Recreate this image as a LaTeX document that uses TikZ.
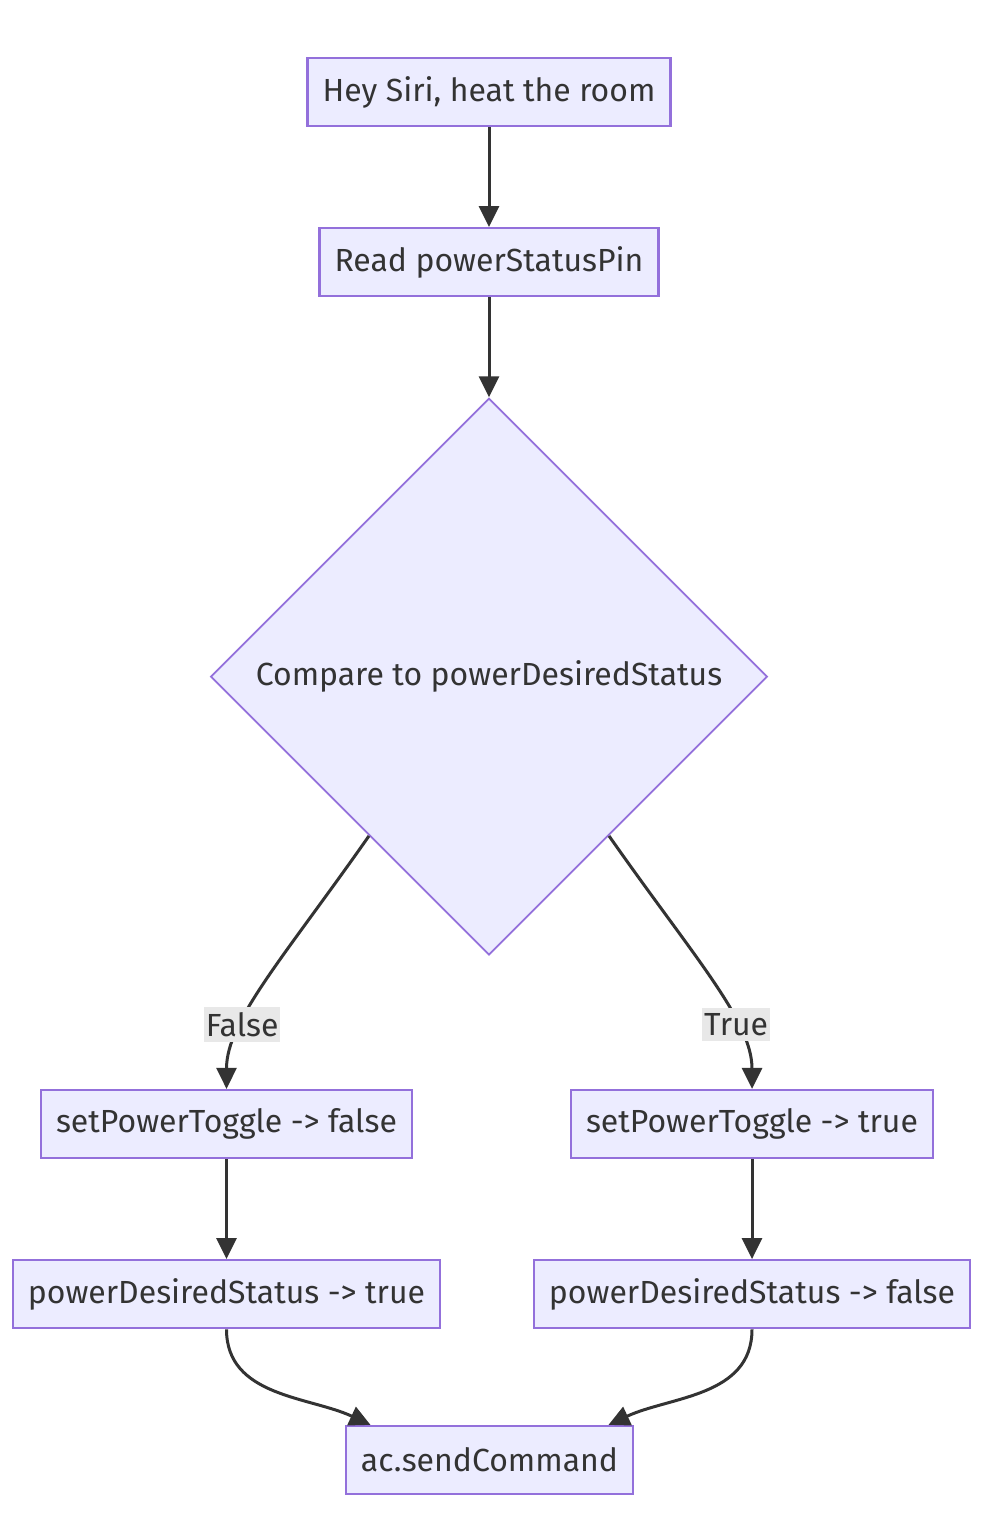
\documentclass[tikz,border=0pt]{standalone}
\usepackage{fontspec}
\setmainfont{Fira Sans}
\usepackage{xcolor}
\usetikzlibrary{shapes.geometric, arrows.meta, positioning, calc}

\definecolor{boxfill}{HTML}{ECECFF}
\definecolor{boxline}{HTML}{9370DB}
\definecolor{edgeline}{HTML}{333333}
\definecolor{labelbg}{HTML}{E8E8E8}

\begin{document}
\begin{tikzpicture}[
    x=0.02cm, y=-0.02cm,
    node distance=2cm,
    font=\fontsize{18.2}{22}\selectfont,
    stepbox/.style={rectangle, draw=boxline, line width=0.045cm, fill=boxfill, text=edgeline, inner xsep=0.3cm, minimum height=1.36cm},
    decision/.style={diamond, draw=boxline, line width=0.035cm, fill=boxfill, text=edgeline, aspect=1, minimum width=11.14cm, minimum height=11.14cm, inner sep=0pt},
    flow/.style={draw=edgeline, line width=0.06cm, -{Triangle[length=0.42cm, width=0.4cm]}},
    lbl/.style={fill=labelbg, text=edgeline, inner xsep=1pt, inner ysep=3pt}
]
    \useasboundingbox (0,0) rectangle (986,1514);

    % Top of the flow
    \node (siri) [stepbox] at (489,92) {Hey Siri, heat the room};
    \node (read) [stepbox, below=of siri] {Read powerStatusPin};
    \node (cmp) [decision, below=of read] {Compare to powerDesiredStatus};

    % Left branch (False)
    \node (pfalse) [stepbox] at (226.5,1124) {setPowerToggle -> false};
    \node (dtrue) [stepbox, below=of pfalse] {powerDesiredStatus -> true};

    % Right branch (True)
    \node (ptrue) [stepbox] at (752,1124) {setPowerToggle -> true};
    \node (dfalse) [stepbox, below=of ptrue] {powerDesiredStatus -> false};

    % Bottom
    \node (send) [stepbox] at (489.5,1460) {ac.sendCommand};

    % Arrows
    \draw[flow] (siri) -- (read);
    \draw[flow] (read) -- (cmp);
    \draw[flow] (cmp.233) to[out=-125, in=90, out looseness=1.3, in looseness=0.6] node[lbl, pos=0.69] {False} (pfalse);
    \draw[flow] (cmp.307) to[out=-55, in=90, out looseness=1.3, in looseness=0.6] node[lbl, pos=0.69] {True} (ptrue);
    \draw[flow] (pfalse) -- (dtrue);
    \draw[flow] (ptrue) -- (dfalse);
    \draw[flow] (dtrue) to[out=-90, in=155] ($(send.north)+(-119,0)$);
    \draw[flow] (dfalse) to[out=-90, in=25] ($(send.north)+(119,0)$);

\end{tikzpicture}
\end{document}
